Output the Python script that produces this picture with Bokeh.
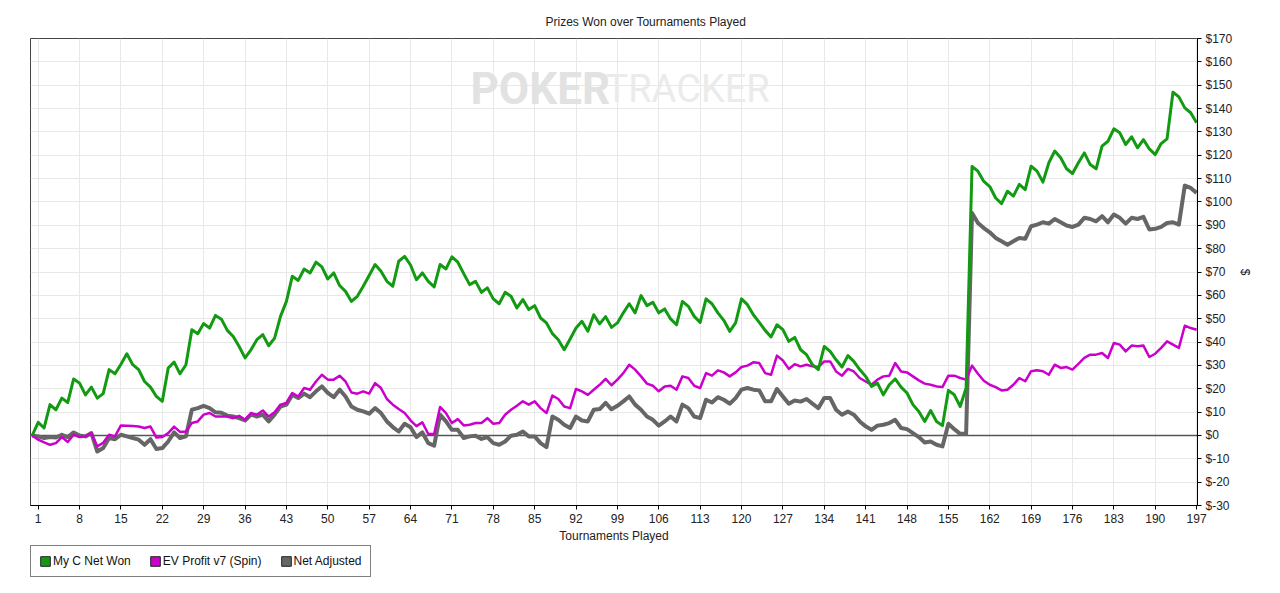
from bokeh.plotting import figure
from bokeh.layouts import column
from bokeh.models import (ColumnDataSource, FixedTicker, SingleIntervalTicker, PrintfTickFormatter,
                          Span, Label, Legend, LegendItem, Range1d)
from bokeh.embed import file_html
from bokeh.resources import INLINE

tournaments = list(range(0, 198))

net_won = [
    0, 5.6, 3.2, 13.2, 11.0, 16.0, 14.1, 24.2, 22.4, 17.4,
    20.7, 16.0, 17.9, 28.2, 26.4, 30.5, 35.0, 30.3, 28.2, 23.1,
    20.7, 16.7, 14.6, 28.9, 31.4, 26.4, 30.3, 45.3, 43.6, 47.9,
    46.0, 51.4, 49.8, 45.0, 42.4, 38.1, 33.2, 36.7, 41.0, 43.2,
    38.4, 41.7, 51.0, 57.4, 68.2, 66.4, 71.3, 69.6, 74.2, 72.2,
    67.0, 69.6, 64.2, 61.7, 57.4, 59.6, 63.9, 68.5, 73.2, 70.3,
    66.0, 63.9, 74.6, 76.7, 73.0, 66.7, 69.6, 66.0, 63.6, 73.2,
    71.3, 76.5, 74.2, 69.3, 64.6, 66.0, 61.3, 63.2, 58.5, 56.4,
    61.3, 59.6, 54.6, 58.2, 53.9, 55.6, 50.3, 48.2, 43.6, 41.0,
    36.7, 41.3, 46.0, 48.9, 44.6, 51.7, 47.8, 50.9, 46.3, 48.2,
    52.5, 56.4, 52.5, 59.9, 55.6, 57.0, 52.5, 54.2, 49.9, 47.4,
    57.4, 55.3, 51.0, 48.4, 58.5, 56.4, 52.5, 49.3, 44.6, 48.2,
    58.5, 56.0, 51.7, 48.4, 45.0, 42.2, 47.4, 45.3, 40.3, 42.0,
    36.7, 34.6, 30.3, 28.2, 38.1, 36.0, 32.4, 29.3, 34.2, 31.7,
    28.2, 25.3, 21.0, 22.4, 17.4, 21.7, 24.2, 20.7, 18.2, 13.2,
    10.3, 6.0, 10.7, 6.0, 4.2, 19.3, 17.4, 12.4, 20.3, 115.2,
    113.2, 108.8, 106.6, 101.7, 99.3, 104.6, 102.5, 107.5, 105.3, 115.3,
    113.2, 108.5, 116.8, 121.8, 118.9, 114.2, 112.2, 116.8, 121.0, 116.0,
    114.2, 123.9, 126.0, 131.3, 129.6, 124.6, 127.9, 123.2, 126.7, 122.7,
    120.3, 125.0, 127.0, 147.0, 145.0, 140.3, 138.2, 133.9,
]

ev_profit = [
    0, -1.8, -3.0, -4.0, -3.3, -0.7, -2.8, 0.3, -0.7, -0.4,
    1.0, -4.7, -3.1, 0.3, -0.4, 4.3, 4.2, 4.0, 3.8, 3.2,
    3.8, -0.9, -0.7, 1.0, 3.8, 1.5, 1.7, 5.3, 6.0, 8.9,
    9.6, 8.1, 8.1, 8.1, 7.4, 8.4, 6.7, 9.6, 8.9, 10.7,
    8.1, 9.9, 13.2, 13.9, 18.2, 16.7, 20.3, 19.6, 23.1, 26.0,
    23.9, 23.9, 25.6, 23.1, 18.4, 17.9, 18.9, 17.9, 22.4, 20.3,
    15.6, 13.2, 11.3, 9.6, 6.5, 4.0, 5.6, 0.6, 0.6, 12.2,
    9.6, 5.3, 7.0, 4.3, 4.6, 5.3, 5.3, 7.4, 5.0, 5.3,
    8.9, 11.0, 12.7, 14.6, 13.2, 14.6, 11.7, 9.6, 17.1, 15.6,
    12.4, 11.7, 19.9, 18.9, 17.4, 19.6, 21.7, 24.2, 21.5, 23.9,
    26.7, 30.3, 28.2, 25.3, 22.2, 21.3, 18.9, 21.0, 21.3, 19.6,
    25.3, 24.6, 21.3, 20.3, 26.7, 25.6, 27.9, 27.0, 25.3, 27.0,
    29.3, 29.9, 31.3, 31.0, 26.7, 26.0, 34.2, 32.1, 28.5, 30.5,
    29.6, 30.3, 29.6, 29.3, 31.7, 31.7, 27.4, 25.6, 28.5, 27.4,
    24.6, 23.1, 21.7, 23.9, 25.3, 25.6, 31.0, 27.4, 27.0, 25.3,
    23.6, 22.2, 21.7, 21.0, 20.7, 25.6, 25.6, 24.6, 23.9, 29.9,
    26.4, 23.4, 21.7, 20.7, 19.3, 19.6, 21.7, 24.6, 23.2, 27.5,
    27.9, 27.5, 26.0, 30.3, 28.9, 29.3, 28.2, 30.7, 33.2, 34.6,
    34.6, 35.3, 33.2, 39.6, 38.9, 36.0, 38.5, 38.2, 38.5, 33.6,
    35.0, 37.5, 40.3, 38.9, 37.5, 47.0, 46.0, 45.3,
]

net_adjusted = [
    0, -0.4, -1.1, -0.7, -0.9, 0.3, -0.7, 1.3, 0.0, -0.4,
    1.0, -6.9, -5.4, -1.1, -1.6, 0.3, -0.4, -1.1, -1.8, -4.0,
    -1.6, -5.8, -5.4, -2.6, 1.3, -1.1, -0.4, 11.0, 11.7, 12.7,
    11.7, 9.9, 9.7, 8.5, 8.1, 7.4, 6.4, 8.9, 8.1, 8.9,
    6.0, 8.9, 12.4, 13.2, 17.4, 16.0, 17.9, 16.4, 18.9, 21.0,
    18.2, 16.4, 19.6, 16.7, 12.4, 11.0, 10.3, 9.3, 11.7, 9.6,
    6.0, 3.6, 1.7, 5.0, 3.5, -0.7, 1.3, -3.3, -4.4, 8.9,
    6.0, 2.4, 2.4, -1.1, -0.4, -0.1, -1.5, -0.7, -3.3, -4.0,
    -2.6, -0.1, 0.3, 1.7, -0.4, -0.4, -3.3, -5.0, 8.1, 6.7,
    4.6, 3.2, 8.1, 6.4, 6.0, 11.0, 11.3, 14.0, 11.2, 12.7,
    14.6, 16.7, 13.2, 11.0, 8.1, 6.7, 4.2, 6.0, 8.1, 6.0,
    13.2, 11.7, 8.1, 7.4, 15.3, 14.1, 16.4, 15.3, 13.6, 16.0,
    19.6, 20.3, 19.6, 19.3, 14.6, 14.6, 19.9, 16.7, 13.6, 15.0,
    14.5, 15.6, 13.6, 11.7, 16.0, 16.0, 11.0, 8.9, 10.3, 8.9,
    6.0, 3.9, 2.4, 4.2, 4.6, 5.3, 6.7, 3.2, 2.7, 1.0,
    -0.7, -3.0, -2.6, -4.0, -4.7, 5.0, 2.7, 0.7, 0.7, 95.3,
    91.0, 88.8, 87.0, 84.6, 83.2, 81.7, 83.2, 84.6, 84.2, 89.6,
    90.3, 91.3, 90.7, 92.7, 91.3, 89.9, 89.3, 90.3, 93.2, 92.7,
    91.7, 93.9, 91.3, 94.6, 93.2, 90.7, 93.2, 92.7, 93.6, 88.2,
    88.5, 89.3, 91.0, 91.3, 90.3, 107.0, 106.0, 103.9,
]

x_ticks = list(range(1, 198, 7))
series_names = ["My C Net Won", "EV Profit v7 (Spin)", "Net Adjusted"]
series_colors = ["#129a12", "#cc00cc", "#666666"]

FONT = "Liberation Sans"

src = ColumnDataSource(data=dict(t=tournaments, won=net_won, ev=ev_profit, adj=net_adjusted))

p = figure(frame_width=1167, frame_height=467,
           x_range=Range1d(-0.3, 197.15), y_range=Range1d(-30, 170),
           output_backend="svg", toolbar_location=None,
           y_axis_location="right",
           title="Prizes Won over Tournaments Played",
           min_border_left=30, min_border_right=67,
           min_border_top=38, min_border_bottom=39)

p.title.align = "left"
p.title.offset = 515
p.title.text_font = FONT
p.title.text_font_size = "12px"
p.title.text_font_style = "normal"
p.title.text_color = "#222222"
p.title.standoff = 19

p.background_fill_color = "white"
p.border_fill_color = "white"
p.outline_line_color = "#444444"
p.outline_line_width = 1

p.xaxis.ticker = FixedTicker(ticks=x_ticks)
p.yaxis.ticker = SingleIntervalTicker(interval=10, num_minor_ticks=0)
p.yaxis.formatter = PrintfTickFormatter(format="$%d")
for ax in (p.xaxis[0], p.yaxis[0]):
    ax.axis_line_color = "black"
    ax.major_tick_line_color = "black"
    ax.major_tick_out = 4
    ax.major_tick_in = 0
    ax.minor_tick_line_color = None
    ax.major_label_text_font = FONT
    ax.major_label_text_font_size = "12px"
    ax.major_label_text_color = "#222222"
    ax.major_label_standoff = 4
    ax.axis_label_text_font = FONT
    ax.axis_label_text_font_size = "12px"
    ax.axis_label_text_font_style = "normal"
    ax.axis_label_text_color = "#222222"
p.xaxis.axis_label = "Tournaments Played"
p.xaxis.axis_label_standoff = 3
p.yaxis.axis_label = "$"
p.yaxis.axis_label_standoff = 3

p.xgrid.grid_line_color = "#e8e8e8"
p.ygrid.grid_line_color = "#e8e8e8"

wm1 = Label(x=440, y=417, x_units="screen", y_units="screen", text="POKER",
            text_font="Roboto", text_font_style="bold",
            text_font_size="44px", text_color="#e2e2e2", text_baseline="alphabetic",
            level="underlay")
wm2 = Label(x=575, y=417, x_units="screen", y_units="screen", text="TRACKER",
            text_font="Roboto", text_font_style="normal",
            text_font_size="38px", text_color="#ebebeb", text_baseline="alphabetic",
            level="underlay")
p.add_layout(wm1)
p.add_layout(wm2)

zero = Span(location=0, dimension="width", line_color="#555555", line_width=1.5, level="underlay")
p.add_layout(zero)

p.line("t", "adj", source=src, line_color=series_colors[2], line_width=4, line_join="round")
p.line("t", "ev", source=src, line_color=series_colors[1], line_width=2.5, line_join="round")
p.line("t", "won", source=src, line_color=series_colors[0], line_width=3, line_join="round")

# legend strip below the chart; swatch quads sit outside its visible range
lf = figure(width=1264, height=33, output_backend="svg", toolbar_location=None,
            x_range=Range1d(0, 1), y_range=Range1d(0, 1),
            x_axis_type=None, y_axis_type=None, min_border=0)
lf.outline_line_color = None
lf.grid.visible = False
lf.background_fill_color = "white"
lf.border_fill_color = "white"

swatch_lo = [5]
swatch_hi = [6]
items = []
for name, col in zip(series_names, series_colors):
    sw = ColumnDataSource(data=dict(left=swatch_lo, right=swatch_hi, top=swatch_hi, bottom=swatch_lo))
    r = lf.quad(left="left", right="right", top="top", bottom="bottom", source=sw,
                fill_color=col, line_color="#222222", line_width=1)
    items.append(LegendItem(label=name, renderers=[r]))

legend = Legend(items=items, orientation="horizontal", location=(0, 1),
                border_line_color="black", border_line_width=1,
                background_fill_color="white", background_fill_alpha=1,
                label_text_font=FONT, label_text_font_size="12px", label_text_color="#111111",
                glyph_width=12, glyph_height=12, label_height=14,
                spacing=18, padding=8, margin=0, label_standoff=2)
lf.add_layout(legend)

layout = column(p, lf, spacing=0)
open("out.html", "w").write(file_html(layout, INLINE))
